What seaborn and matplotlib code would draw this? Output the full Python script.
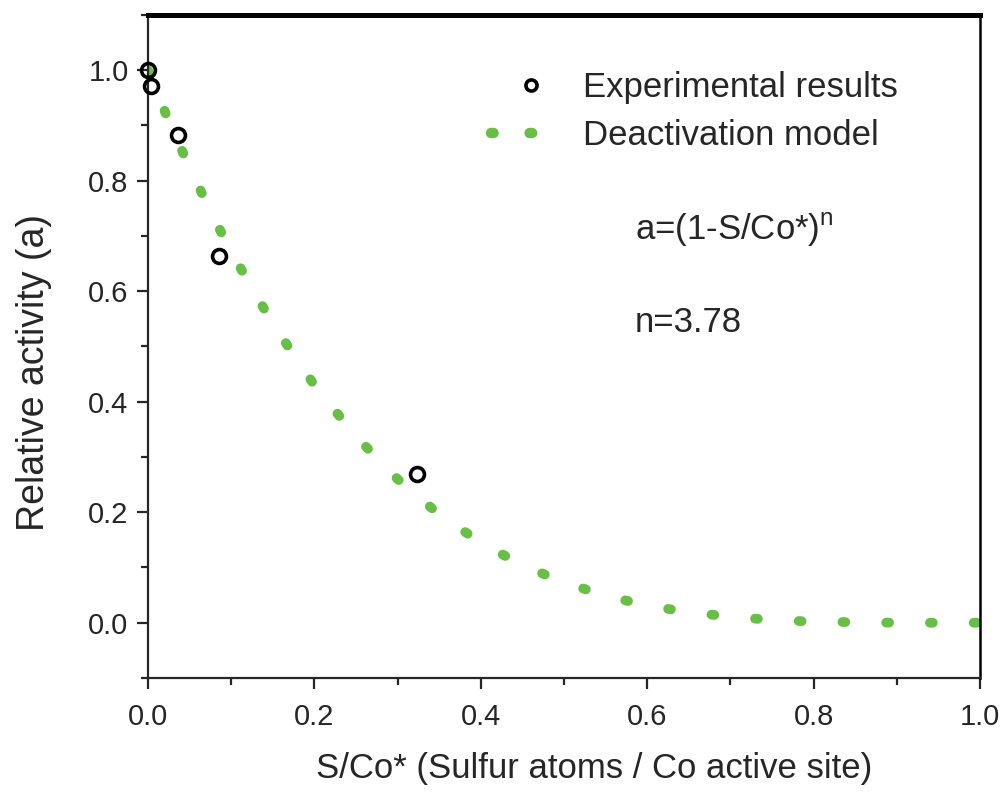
import numpy as np
import pandas as pd
import matplotlib
matplotlib.use("Agg")
import matplotlib.pyplot as plt
import seaborn as sns
from matplotlib.lines import Line2D
from matplotlib.legend_handler import HandlerLine2D

# Experimental points
exp_x = [0.0, 0.004, 0.036, 0.085, 0.323]
exp_y = [1.0, 0.972, 0.882, 0.664, 0.270]

# Deactivation model curve
model_x = [0.0, 0.025, 0.05, 0.075, 0.10, 0.15, 0.20, 0.25, 0.30, 0.35, 0.40, 0.45,
           0.50, 0.55, 0.60, 0.65, 0.70, 0.75, 0.80, 0.85, 0.90, 0.95, 1.0]
model_y = [1.0, 0.908, 0.824, 0.745, 0.671, 0.541, 0.430, 0.337, 0.260, 0.196, 0.145,
           0.104, 0.073, 0.049, 0.031, 0.019, 0.011, 0.005, 0.002, 0.001, 0.0, 0.0, 0.0]

x_ticks = [0.0, 0.2, 0.4, 0.6, 0.8, 1.0]
y_ticks = [0.0, 0.2, 0.4, 0.6, 0.8, 1.0]
x_label = "S/Co* (Sulfur atoms / Co active site)"
y_label = "Relative activity (a)"
legend_labels = ["Experimental results", "Deactivation model"]

sns.set_theme(style="ticks")
plt.rcParams['font.family'] = ['Liberation Sans', 'DejaVu Sans']
plt.rcParams['mathtext.fontset'] = 'custom'
plt.rcParams['mathtext.rm'] = 'Liberation Sans'

green = '#68bf45'
dark = '#262626'
LW = 7.0

fig = plt.figure(figsize=(10.04, 7.98), dpi=100)
ax = fig.add_axes([0.1474, 0.1504, 0.8287, 0.8308])

df_model = pd.DataFrame({"x": model_x, "y": model_y})
df_exp = pd.DataFrame({"x": exp_x, "y": exp_y})

sns.lineplot(data=df_model, x="x", y="y", ax=ax, color=green, linewidth=LW,
             sort=False, estimator=None, zorder=2)
ln = ax.lines[-1]
ln.set_dashes((0.3, 4.2))
ln.set_dash_capstyle('round')

ax.plot(df_exp["x"], df_exp["y"], linestyle='none', marker='o', markersize=10,
        markerfacecolor='none', markeredgecolor='black', markeredgewidth=2.6,
        zorder=3, clip_on=False)

ax.set_xlim(0, 1.0)
ax.set_ylim(-0.1, 1.1)
ax.set_xticks(x_ticks)
ax.set_yticks(y_ticks)
ax.set_xticks(np.array(x_ticks[:-1]) + 0.1, minor=True)
ax.set_yticks([-0.1] + list(np.array(y_ticks) + 0.1), minor=True)
ax.set_xticklabels([f"{v:.1f}" for v in x_ticks])
ax.set_yticklabels([f"{v:.1f}" for v in y_ticks])

ax.tick_params(axis='both', which='major', direction='out', length=8, width=1.6,
               color=dark, labelsize=21, labelcolor=dark)
ax.tick_params(axis='y', which='major', pad=6)
ax.tick_params(axis='x', which='major', pad=10)
ax.tick_params(axis='both', which='minor', direction='out', length=5, width=1.6,
               color=dark)

for side in ['left', 'bottom']:
    ax.spines[side].set_linewidth(1.6)
    ax.spines[side].set_color(dark)
ax.spines['top'].set_visible(True)
ax.spines['right'].set_visible(True)
ax.spines['top'].set_linewidth(3.6)
ax.spines['top'].set_color('black')
ax.spines['right'].set_linewidth(1.8)
ax.spines['right'].set_color('black')

ax.set_xlabel(x_label, fontsize=25, color=dark)
ax.set_ylabel(y_label, fontsize=27, color=dark)
ax.xaxis.set_label_coords(0.536, -0.112)
ax.yaxis.set_label_coords(-0.115, 0.4615)


class RightMarkerHandler(HandlerLine2D):
    def create_artists(self, legend, orig_handle, xdescent, ydescent, width, height,
                       fontsize, trans):
        arts = super().create_artists(legend, orig_handle, xdescent, ydescent, width,
                                      height, fontsize, trans)
        for a in arts:
            xd = np.asarray(a.get_xdata(), dtype=float)
            a.set_xdata(np.full_like(xd, width - xdescent - 0.17 * fontsize))
        return arts


h_exp = Line2D([], [], linestyle='none', marker='o', markersize=8, markerfacecolor='none',
               markeredgecolor='black', markeredgewidth=2.6)
h_mod = Line2D([], [], color=green, linewidth=7.5, dashes=(0.25, 3.45),
               dash_capstyle='round')
leg = ax.legend([h_exp, h_mod], legend_labels, loc='upper left',
                bbox_to_anchor=(0.412, 0.915), frameon=False, fontsize=25,
                handlelength=1.33, handletextpad=1.33, labelspacing=0.43,
                borderaxespad=0, borderpad=0,
                handler_map={h_exp: RightMarkerHandler(numpoints=1)})
for t in leg.get_texts():
    t.set_color(dark)

ax.text(0.5853, 0.676, r"a=(1-S/Co*)$^{\mathregular{n}}$", transform=ax.transAxes,
        fontsize=25, color=dark, va='center', ha='left')
ax.text(0.5853, 0.5355, "n=3.78", transform=ax.transAxes,
        fontsize=25, color=dark, va='center', ha='left')

fig.savefig("out.png", dpi=100)
